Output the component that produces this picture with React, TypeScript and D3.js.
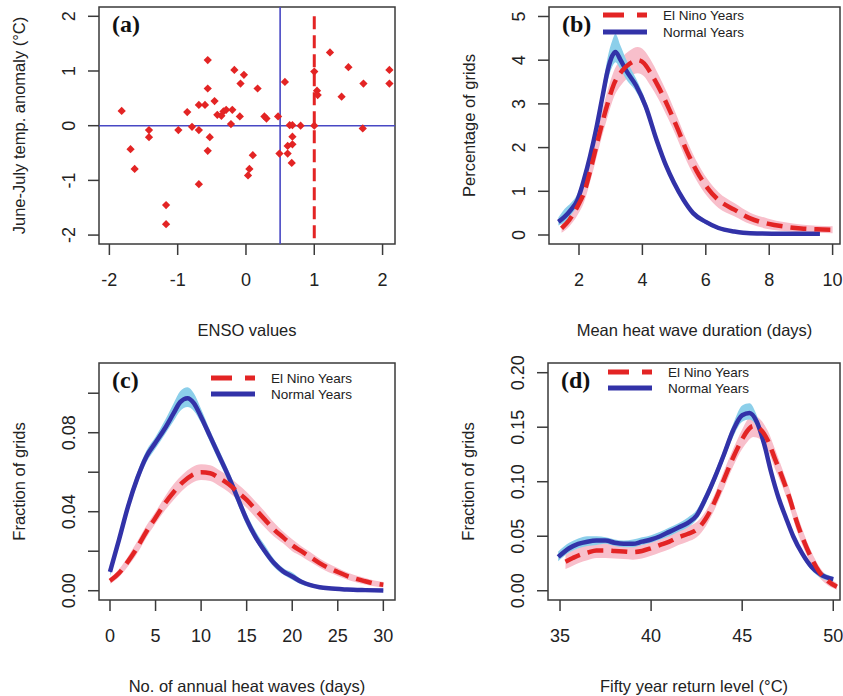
import React from "react";
import * as d3 from "d3";

// ---- panel (a): ENSO vs June-July temperature anomaly ----
const ensoValues = [
  -1.82, -1.69, -1.63, -1.42, -1.42, -1.17, -1.17, -0.99, -0.86, -0.79,
  -0.69, -0.69, -0.69, -0.6, -0.56, -0.56, -0.53, -0.56, -0.46, -0.42,
  -0.36, -0.33, -0.29, -0.2, -0.22, -0.17, -0.08, -0.09, -0.03, 0.03,
  0.05, 0.1, 0.17, 0.27, 0.3, 0.47, 0.49, 0.57, 0.64, 0.68,
  0.8, 0.68, 0.68, 0.61, 0.61, 0.67, 1.0, 1.04, 1.05, 1.0,
  1.23, 1.4, 1.5, 1.72, 1.71, 2.1, 2.1,
];
const tempAnomaly = [
  0.27, -0.43, -0.79, -0.08, -0.21, -1.45, -1.8, -0.08, 0.25, -0.02,
  -0.08, -1.07, 0.38, 0.38, 1.2, 0.68, -0.21, -0.46, 0.45, 0.2,
  0.18, 0.26, 0.29, 0.29, 0.03, 1.02, 0.77, 0.17, 0.93, -0.91,
  -0.79, -0.54, 0.68, 0.17, 0.13, 0.17, -0.51, 0.8, 0.01, 0.01,
  0.0, -0.2, -0.34, -0.37, -0.51, -0.68, 0.99, 0.64, 0.56, 0.0,
  1.34, 0.53, 1.07, 0.77, -0.05, 1.02, 0.77,
];

// ---- panel (b): mean heat wave duration ----
const durNormalX = [1.35, 1.55, 1.75, 1.95, 2.15, 2.35, 2.55, 2.75, 2.9, 3.05, 3.15, 3.3, 3.5, 3.8, 4.1, 4.45, 4.75, 5.0, 5.3, 5.6, 6.0, 6.4, 6.9, 7.4, 8.4, 9.6];
const durNormal = [0.3, 0.42, 0.58, 0.8, 1.25, 1.8, 2.45, 3.2, 3.75, 4.1, 4.19, 4.02, 3.75, 3.42, 2.95, 2.17, 1.58, 1.19, 0.8, 0.5, 0.3, 0.16, 0.08, 0.04, 0.03, 0.03];
const durNormalHi = [0.4, 0.6, 0.74, 0.94, 1.38, 1.95, 2.62, 3.4, 4.05, 4.45, 4.6, 4.35, 4.0, 3.58, 3.08, 2.28, 1.68, 1.27, 0.87, 0.56, 0.35, 0.2, 0.11, 0.07, 0.05, 0.05];
const durNormalLo = [0.22, 0.3, 0.46, 0.68, 1.12, 1.66, 2.3, 3.02, 3.52, 3.85, 3.95, 3.8, 3.55, 3.28, 2.82, 2.06, 1.48, 1.11, 0.73, 0.44, 0.25, 0.12, 0.05, 0.02, 0.01, 0.01];
const durNinoX = [1.45, 1.7, 1.95, 2.15, 2.4, 2.65, 2.9, 3.1, 3.35, 3.6, 3.85, 4.05, 4.25, 4.5, 4.8, 5.1, 5.4, 5.7, 6.05, 6.4, 6.9, 7.4, 7.95, 8.5, 9.0, 9.5, 10.0];
const durNino = [0.15, 0.35, 0.65, 0.95, 1.6, 2.33, 3.0, 3.45, 3.75, 3.92, 4.0, 3.93, 3.72, 3.4, 2.95, 2.45, 1.92, 1.48, 1.08, 0.8, 0.58, 0.38, 0.26, 0.19, 0.15, 0.13, 0.12];
const durNinoHi = [0.27, 0.5, 0.85, 1.17, 1.85, 2.61, 3.3, 3.75, 4.05, 4.22, 4.3, 4.23, 4.02, 3.68, 3.22, 2.7, 2.16, 1.7, 1.28, 0.98, 0.73, 0.51, 0.38, 0.29, 0.24, 0.21, 0.2];
const durNinoLo = [0.05, 0.2, 0.45, 0.73, 1.35, 2.05, 2.7, 3.15, 3.45, 3.62, 3.7, 3.63, 3.42, 3.12, 2.68, 2.2, 1.68, 1.26, 0.88, 0.62, 0.43, 0.25, 0.14, 0.09, 0.06, 0.05, 0.04];

// ---- panel (c): number of annual heat waves ----
const numNormalX = [0, 1, 2, 3, 4, 5, 6, 7, 7.7, 8.5, 9.2, 10, 11, 12, 13, 14, 15, 16, 17, 18, 19, 20, 21, 22, 23, 24, 26, 28, 30];
const numNormal = [0.0095, 0.026, 0.043, 0.057, 0.068, 0.075, 0.082, 0.09, 0.0955, 0.0975, 0.095, 0.088, 0.078, 0.068, 0.058, 0.047, 0.036, 0.027, 0.02, 0.014, 0.0098, 0.0072, 0.0045, 0.0028, 0.0018, 0.0012, 0.0006, 0.0003, 0.0001];
const numNormalHi = [0.0115, 0.029, 0.046, 0.06, 0.071, 0.078, 0.086, 0.095, 0.101, 0.103, 0.1, 0.092, 0.081, 0.071, 0.061, 0.05, 0.039, 0.03, 0.023, 0.016, 0.0115, 0.0092, 0.0058, 0.0038, 0.0026, 0.0019, 0.0012, 0.0008, 0.0005];
const numNormalLo = [0.0075, 0.023, 0.04, 0.054, 0.065, 0.072, 0.079, 0.086, 0.091, 0.093, 0.091, 0.085, 0.075, 0.065, 0.055, 0.044, 0.033, 0.025, 0.018, 0.012, 0.0082, 0.0055, 0.0032, 0.0019, 0.0011, 0.0006, 0.0001, 0, 0];
const numNinoX = [0, 1, 2, 3, 4, 5, 6, 7, 8, 9, 10, 11, 12, 13, 14, 15, 16, 17, 18, 19, 20, 21, 22, 23, 24, 25, 26, 27, 28, 29, 30];
const numNino = [0.005, 0.009, 0.015, 0.022, 0.03, 0.037, 0.044, 0.05, 0.055, 0.0585, 0.06, 0.0595, 0.057, 0.054, 0.05, 0.046, 0.041, 0.036, 0.031, 0.027, 0.023, 0.02, 0.017, 0.014, 0.0115, 0.0095, 0.0075, 0.006, 0.0048, 0.0037, 0.003];
const numNinoHi = [0.0065, 0.011, 0.0175, 0.025, 0.033, 0.04, 0.0475, 0.054, 0.059, 0.0625, 0.064, 0.0635, 0.061, 0.058, 0.054, 0.05, 0.045, 0.04, 0.0345, 0.03, 0.026, 0.0225, 0.0195, 0.0163, 0.0137, 0.0115, 0.0093, 0.0077, 0.0064, 0.0052, 0.0044];
const numNinoLo = [0.0035, 0.007, 0.0125, 0.019, 0.027, 0.034, 0.0405, 0.046, 0.051, 0.0545, 0.056, 0.0555, 0.053, 0.05, 0.046, 0.042, 0.037, 0.032, 0.0275, 0.024, 0.02, 0.0175, 0.0145, 0.0117, 0.0093, 0.0075, 0.0057, 0.0043, 0.0032, 0.0022, 0.0016];

// ---- panel (d): fifty year return level ----
const retNormalX = [34.9, 35.5, 36.0, 36.5, 37.0, 37.5, 38.0, 38.5, 39.0, 39.5, 40.0, 40.5, 41.0, 41.5, 42.0, 42.5, 43.0, 43.5, 44.0, 44.5, 45.0, 45.4, 45.8, 46.2, 46.6, 47.0, 47.4, 47.8, 48.3, 48.8, 49.3, 50.0];
const retNormal = [0.031, 0.039, 0.043, 0.045, 0.046, 0.046, 0.044, 0.043, 0.043, 0.045, 0.047, 0.05, 0.054, 0.058, 0.062, 0.069, 0.085, 0.104, 0.125, 0.147, 0.161, 0.163, 0.155, 0.135, 0.108, 0.085, 0.067, 0.05, 0.034, 0.022, 0.015, 0.0105];
const retNormalHi = [0.036, 0.044, 0.048, 0.05, 0.05, 0.049, 0.047, 0.046, 0.047, 0.049, 0.051, 0.054, 0.058, 0.062, 0.067, 0.074, 0.09, 0.109, 0.13, 0.153, 0.17, 0.172, 0.161, 0.14, 0.112, 0.089, 0.07, 0.053, 0.037, 0.025, 0.018, 0.0125];
const retNormalLo = [0.027, 0.035, 0.039, 0.041, 0.042, 0.043, 0.041, 0.04, 0.04, 0.042, 0.044, 0.047, 0.05, 0.054, 0.058, 0.065, 0.08, 0.099, 0.12, 0.141, 0.155, 0.157, 0.15, 0.13, 0.104, 0.081, 0.064, 0.047, 0.031, 0.019, 0.012, 0.0085];
const retNinoX = [35.3, 35.7, 36.1, 36.5, 37.0, 37.5, 38.0, 38.5, 39.0, 39.5, 40.0, 40.5, 41.0, 41.5, 42.0, 42.5, 43.0, 43.5, 44.0, 44.5, 45.0, 45.3, 45.6, 46.0, 46.4, 46.8, 47.2, 47.6, 48.0, 48.4, 48.8, 49.2, 49.7, 50.2];
const retNino = [0.0266, 0.03, 0.033, 0.035, 0.037, 0.037, 0.0365, 0.036, 0.0355, 0.0365, 0.039, 0.042, 0.045, 0.049, 0.052, 0.056, 0.066, 0.082, 0.102, 0.122, 0.139, 0.147, 0.151, 0.148, 0.138, 0.121, 0.104, 0.085, 0.063, 0.045, 0.03, 0.018, 0.009, 0.0037];
const retNinoHi = [0.033, 0.037, 0.04, 0.042, 0.044, 0.044, 0.0435, 0.043, 0.0425, 0.0435, 0.046, 0.049, 0.052, 0.056, 0.059, 0.063, 0.073, 0.089, 0.11, 0.13, 0.148, 0.157, 0.161, 0.157, 0.147, 0.13, 0.112, 0.093, 0.071, 0.052, 0.036, 0.023, 0.013, 0.007];
const retNinoLo = [0.02, 0.023, 0.026, 0.028, 0.03, 0.03, 0.0295, 0.029, 0.0285, 0.0295, 0.032, 0.035, 0.038, 0.042, 0.045, 0.049, 0.059, 0.075, 0.094, 0.114, 0.13, 0.137, 0.141, 0.139, 0.129, 0.112, 0.096, 0.077, 0.055, 0.038, 0.024, 0.013, 0.005, 0.001];

const legendLabels = ["El Nino Years", "Normal Years"];

const SANS = "'Liberation Sans', Arial, Helvetica, sans-serif";
const SERIF = "'Liberation Serif', 'Times New Roman', serif";
const AXIS = "#3a3a3a";
const RED = "#e32424";
const BLUE = "#3232a8";
const SKY = "#8ccfea";
const PINK = "#f8bfcb";

const Frame = ({ x, y, xTicks, yTicks, yLabels, xTitle, yTitle, tag }) => {
  const [l, r] = x.range();
  const [b, t] = y.range();
  const shown = yLabels || yTicks;
  return (
    <g>
      <rect x={l} y={t} width={r - l} height={b - t} fill="none" stroke={AXIS} strokeWidth={1.5} />
      {xTicks.map((v) => (
        <g key={"x" + v}>
          <line x1={x(v)} x2={x(v)} y1={b} y2={b + 11} stroke={AXIS} strokeWidth={1.5} />
          <text x={x(v)} y={b + 42} textAnchor="middle" fontSize={18} fontFamily={SANS} fill="#222">
            {v}
          </text>
        </g>
      ))}
      {yTicks.map((v) => (
        <line key={"y" + v} x1={l - 11} x2={l} y1={y(v)} y2={y(v)} stroke={AXIS} strokeWidth={1.5} />
      ))}
      {shown.map((v) => (
        <text
          key={"yl" + v}
          transform={`translate(${l - 24},${y(v)}) rotate(-90)`}
          textAnchor="middle"
          fontSize={18}
          fontFamily={SANS}
          fill="#222"
        >
          {yLabels ? v.toFixed(2) : v}
        </text>
      ))}
      <text x={(l + r) / 2} y={b + 92} textAnchor="middle" fontSize={16.5} fontFamily={SANS} fill="#222">
        {xTitle}
      </text>
      <text
        transform={`translate(${l - 74},${(t + b) / 2}) rotate(-90)`}
        textAnchor="middle"
        fontSize={16.5}
        fontFamily={SANS}
        fill="#222"
      >
        {yTitle}
      </text>
      <text x={l + 13} y={t + 25} fontSize={24} fontWeight="bold" fontFamily={SERIF} fill="#111">
        {tag}
      </text>
    </g>
  );
};

const Legend = ({ x0, y0, gap }) => (
  <g fontFamily={SANS} fontSize={13.5} fill="#222">
    <line x1={x0} x2={x0 + 44} y1={y0} y2={y0} stroke={RED} strokeWidth={5} strokeDasharray="21 13 10 100" />
    <text x={x0 + 60} y={y0 + 5}>{legendLabels[0]}</text>
    <line x1={x0} x2={x0 + 44} y1={y0 + gap} y2={y0 + gap} stroke={BLUE} strokeWidth={5} />
    <text x={x0 + 60} y={y0 + gap + 5}>{legendLabels[1]}</text>
  </g>
);

const DensityPanel = ({ x, y, normal, nino, clipId }) => {
  const [l, r] = x.range();
  const [b, t] = y.range();
  const band = (xs, lo, hi) =>
    d3
      .area()
      .x((d) => x(xs[d]))
      .y0((d) => y(lo[d]))
      .y1((d) => y(hi[d]))
      .curve(d3.curveMonotoneX)(d3.range(xs.length));
  const line = (xs, ys) =>
    d3
      .line()
      .x((d) => x(xs[d]))
      .y((d) => y(ys[d]))
      .curve(d3.curveMonotoneX)(d3.range(xs.length));
  return (
    <g>
      <clipPath id={clipId}>
        <rect x={l} y={t} width={r - l} height={b - t} />
      </clipPath>
      <g clipPath={`url(#${clipId})`}>
        <path d={band(nino.x, nino.lo, nino.hi)} fill={PINK} />
        <path d={band(normal.x, normal.lo, normal.hi)} fill={SKY} />
        <path d={line(normal.x, normal.y)} fill="none" stroke={BLUE} strokeWidth={4.5} />
        <path d={line(nino.x, nino.y)} fill="none" stroke={RED} strokeWidth={4.5} strokeDasharray="16 8" />
      </g>
    </g>
  );
};

export default function App() {
  // panel (a)
  const xa = d3.scaleLinear().domain([-2.152, 2.182]).range([99, 395]);
  const ya = d3.scaleLinear().domain([-2.163, 2.17]).range([244, 7]);
  const diamond = d3.symbol(d3.symbolSquare, 34)();

  // panel (b)
  const xb = d3.scaleLinear().domain([1.054, 10.233]).range([549, 840]);
  const yb = d3.scaleLinear().domain([-0.206, 5.217]).range([244, 7]);

  // panel (c)
  const xc = d3.scaleLinear().domain([-1.207, 31.28]).range([99, 395]);
  const yc = d3.scaleLinear().domain([-0.0047, 0.1153]).range([600, 363]);

  // panel (d)
  const xd = d3.scaleLinear().domain([34.34, 50.37]).range([548, 840]);
  const yd = d3.scaleLinear().domain([-0.0085, 0.2089]).range([600, 363]);

  return (
    <svg width={843} height={696} style={{ position: "absolute", left: 0, top: 0, background: "#fff" }}>
      {/* (a) */}
      <Frame
        x={xa}
        y={ya}
        xTicks={[-2, -1, 0, 1, 2]}
        yTicks={[-2, -1, 0, 1, 2]}
        xTitle="ENSO values"
        yTitle="June-July temp. anomaly (°C)"
        tag="(a)"
      />
      <line x1={xa(0.5)} x2={xa(0.5)} y1={ya.range()[0]} y2={ya.range()[1]} stroke="#4848c4" strokeWidth={1.6} />
      <line x1={xa.range()[0]} x2={xa.range()[1]} y1={ya(0)} y2={ya(0)} stroke="#4848c4" strokeWidth={1.6} />
      <line x1={xa(1)} x2={xa(1)} y1={ya(2)} y2={ya.range()[0]} stroke={RED} strokeWidth={3} strokeDasharray="13 6" />
      {ensoValues.map((v, i) => (
        <path
          key={i}
          d={diamond}
          transform={`translate(${xa(v)},${ya(tempAnomaly[i])}) rotate(45)`}
          fill={RED}
        />
      ))}

      {/* (b) */}
      <DensityPanel
        x={xb}
        y={yb}
        clipId="clipb"
        normal={{ x: durNormalX, y: durNormal, lo: durNormalLo, hi: durNormalHi }}
        nino={{ x: durNinoX, y: durNino, lo: durNinoLo, hi: durNinoHi }}
      />
      <Frame
        x={xb}
        y={yb}
        xTicks={[2, 4, 6, 8, 10]}
        yTicks={[0, 1, 2, 3, 4, 5]}
        xTitle="Mean heat wave duration (days)"
        yTitle="Percentage of grids"
        tag="(b)"
      />
      <Legend x0={603} y0={15} gap={17} />

      {/* (c) */}
      <DensityPanel
        x={xc}
        y={yc}
        clipId="clipc"
        normal={{ x: numNormalX, y: numNormal, lo: numNormalLo, hi: numNormalHi }}
        nino={{ x: numNinoX, y: numNino, lo: numNinoLo, hi: numNinoHi }}
      />
      <Frame
        x={xc}
        y={yc}
        xTicks={[0, 5, 10, 15, 20, 25, 30]}
        yTicks={[0, 0.02, 0.04, 0.06, 0.08, 0.1]}
        yLabels={[0, 0.04, 0.08]}
        xTitle="No. of annual heat waves (days)"
        yTitle="Fraction of grids"
        tag="(c)"
      />
      <Legend x0={211} y0={378} gap={16} />

      {/* (d) */}
      <DensityPanel
        x={xd}
        y={yd}
        clipId="clipd"
        normal={{ x: retNormalX, y: retNormal, lo: retNormalLo, hi: retNormalHi }}
        nino={{ x: retNinoX, y: retNino, lo: retNinoLo, hi: retNinoHi }}
      />
      <Frame
        x={xd}
        y={yd}
        xTicks={[35, 40, 45, 50]}
        yTicks={[0, 0.05, 0.1, 0.15, 0.2]}
        yLabels={[0, 0.05, 0.1, 0.15, 0.2]}
        xTitle="Fifty year return level  (°C)"
        yTitle="Fraction of grids"
        tag="(d)"
      />
      <Legend x0={608} y0={372} gap={16} />
    </svg>
  );
}
